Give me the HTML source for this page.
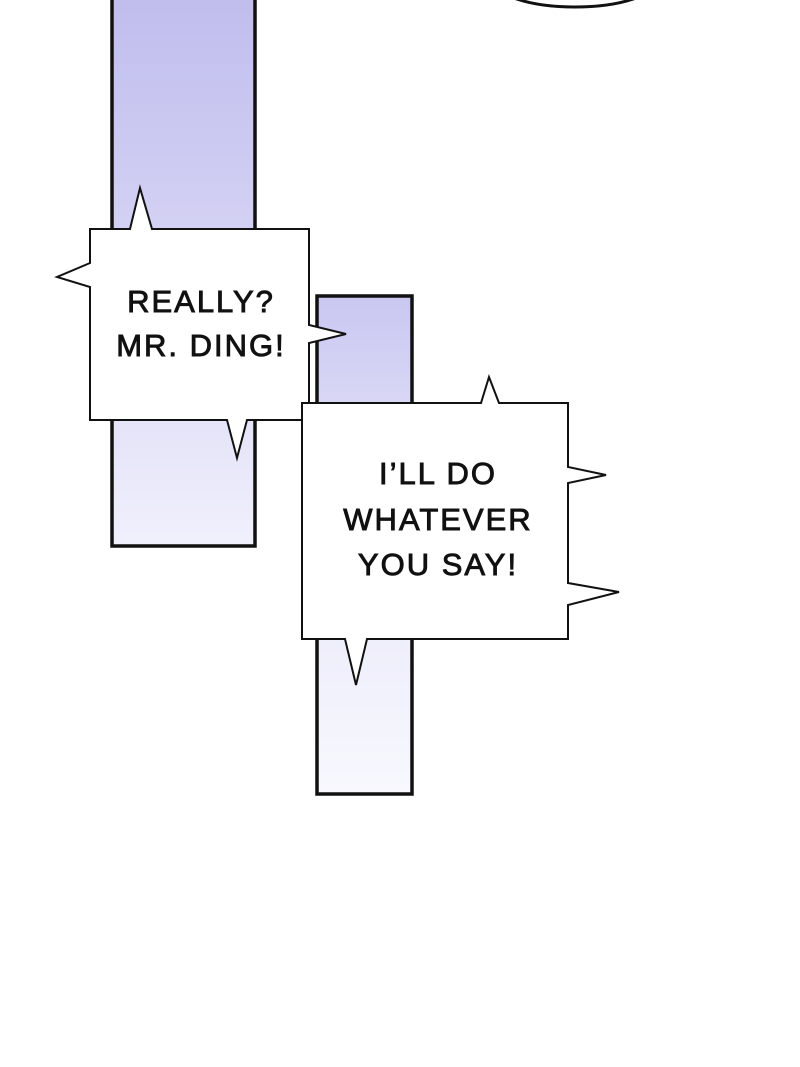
<!DOCTYPE html>
<html><head><meta charset="utf-8"><style>
html,body{margin:0;padding:0;background:#fff;width:800px;height:1067px;overflow:hidden}
svg{display:block}
text{font-family:"Liberation Sans",sans-serif;font-weight:normal;fill:#111;stroke:#111;stroke-width:0.9;text-anchor:middle;letter-spacing:2px}
</style></head><body>
<svg width="800" height="1067" viewBox="0 0 800 1067" xmlns="http://www.w3.org/2000/svg">
<defs>
<linearGradient id="g1" x1="0" y1="0" x2="0" y2="1">
<stop offset="0" stop-color="#c0bdee"/><stop offset="0.5" stop-color="#d6d4f4"/><stop offset="1" stop-color="#f1f0fc"/>
</linearGradient>
<linearGradient id="g2" x1="0" y1="0" x2="0" y2="1">
<stop offset="0" stop-color="#c9c7f1"/><stop offset="0.4" stop-color="#e6e5f8"/><stop offset="1" stop-color="#f8f8fe"/>
</linearGradient>
</defs>
<ellipse cx="575" cy="-20" rx="82" ry="27" fill="none" stroke="#111" stroke-width="3"/>
<rect x="112" y="-5" width="143" height="551" fill="url(#g1)" stroke="#111" stroke-width="3.5"/>
<rect x="317" y="296" width="95" height="498" fill="url(#g2)" stroke="#111" stroke-width="3.5"/>
<path d="M90,229 L130,229 L140,188 L152,229 L309,229 L309,325 L346,334 L309,343 L309,420 L247,420 L237,458 L227,420 L90,420 L90,287 L57,277 L90,263 Z" fill="#fff" stroke="#111" stroke-width="2"/>
<path d="M302,403 L481,403 L489,377 L499,403 L568,403 L568,467 L606,475 L568,483 L568,583 L619,592 L568,605 L568,639 L367,639 L356,685 L345,639 L302,639 Z" fill="#fff" stroke="#111" stroke-width="2"/>
<text x="201" y="312" font-size="31">REALLY?</text>
<text x="201" y="356" font-size="31">MR. DING!</text>
<text x="438" y="484" font-size="31">I’LL DO</text>
<text x="438" y="530" font-size="31">WHATEVER</text>
<text x="438" y="575" font-size="31">YOU SAY!</text>
</svg>
</body></html>
